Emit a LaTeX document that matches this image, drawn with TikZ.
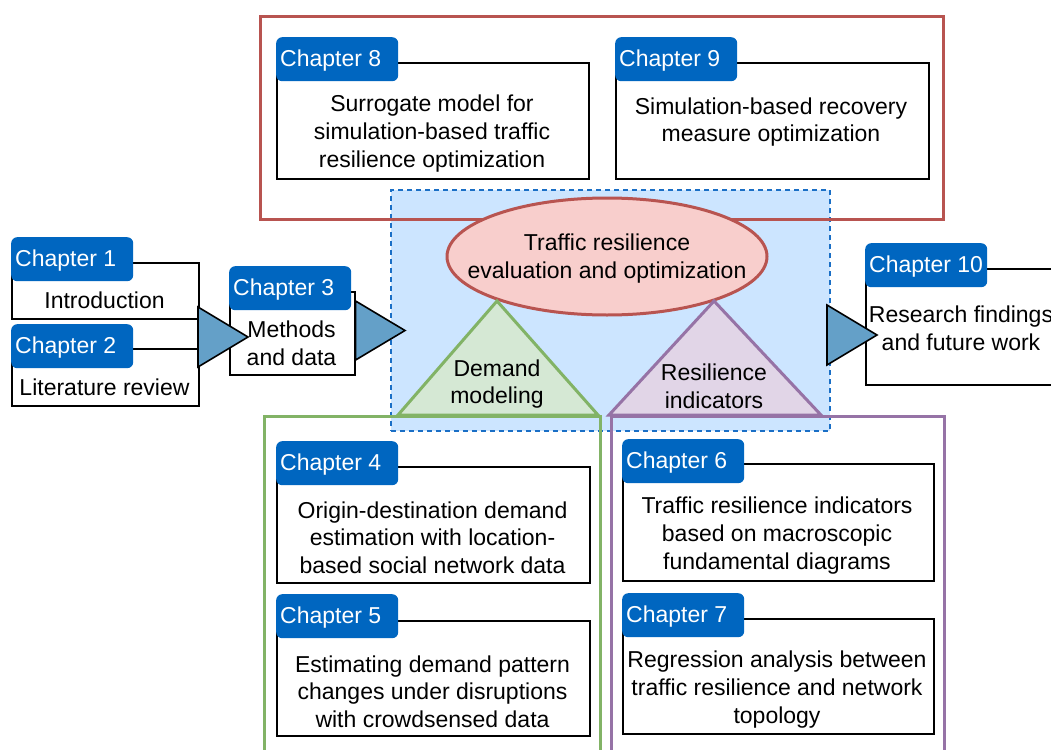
\documentclass[tikz,border=0pt]{standalone}
\usepackage{fontspec}
\setmainfont{Liberation Sans}
\usetikzlibrary{shapes.geometric}

\definecolor{tabblue}{HTML}{0066C0}
\definecolor{redline}{HTML}{B85450}
\definecolor{redfill}{HTML}{F8CECC}
\definecolor{greenline}{HTML}{82B366}
\definecolor{greenfill}{HTML}{D5E8D4}
\definecolor{purpleline}{HTML}{9673A6}
\definecolor{purplefill}{HTML}{E1D5E7}
\definecolor{zonefill}{HTML}{CCE5FF}
\definecolor{zoneline}{HTML}{1A6FC6}
\definecolor{flowfill}{HTML}{64A0C8}

\begin{document}
\begin{tikzpicture}[x=1pt,y=-1pt,
  font=\fontsize{23}{27.7}\selectfont,
  chapbox/.style={draw=black, line width=1.6pt, fill=white, anchor=north west, inner sep=0pt},
  chaptab/.style={fill=tabblue, rounded corners=6pt, anchor=north west, inner sep=0pt,
                  minimum width=122pt, minimum height=44pt},
  tablabel/.style={text=white, anchor=west, inner sep=0pt, yshift=-1pt},
  body/.style={align=center, inner sep=0pt, yshift=-2pt},
  flow/.style={draw=black, line width=1.6pt, fill=flowfill, line join=miter},
  grouprect/.style={line width=3pt, inner sep=0pt, anchor=north west}]

\useasboundingbox (0,0) rectangle (1051,749);
\clip (0,0) rectangle (1051,749);

% central zone
\node[fill=zonefill, draw=zoneline, line width=1.6pt, dash pattern=on 5pt off 4pt,
      anchor=north west, inner sep=0pt, minimum width=439pt, minimum height=241pt]
      (zone) at (390,189) {};

% group frames
\node[grouprect, draw=redline, minimum width=683pt, minimum height=203pt] (optgroup) at (259,15) {};
\node[grouprect, draw=greenline, minimum width=336pt, minimum height=360pt] (demgroup) at (263,415) {};
\node[grouprect, draw=purpleline, minimum width=333pt, minimum height=360pt] (resgroup) at (610,415) {};

% Chapter 8
\node[chapbox, minimum width=312pt, minimum height=116pt] (b8) at (276,62) {};
\node[chaptab] (t8) at (276,37) {};
\node[tablabel] (l8) at ([xshift=4pt]t8.west) {Chapter 8};
\node[body] (x8) at (432,131.5) {Surrogate model for\\simulation-based traffic\\resilience optimization};

% Chapter 9
\node[chapbox, minimum width=313pt, minimum height=116pt] (b9) at (615,62) {};
\node[chaptab] (t9) at (615,37) {};
\node[tablabel] (l9) at ([xshift=4pt]t9.west) {Chapter 9};
\node[body] (x9) at (771,120) {Simulation-based recovery\\measure optimization};

% core topic
\node[ellipse, draw=redline, fill=redfill, line width=3pt, inner sep=0pt,
      minimum width=320pt, minimum height=117pt] (core) at (607,256.5) {};
\node[body] (corelabel) at (607,256.5) {Traffic resilience\\evaluation and optimization};

% themes
\coordinate (dtop) at (497,301);
\coordinate (dright) at (598,415);
\coordinate (dleft) at (398,415);
\draw[draw=greenline, fill=greenfill, line width=3pt, line join=miter] (dtop) -- (dright) -- (dleft) -- cycle;
\node[body] (demand) at (497,382) {Demand\\modeling};

\coordinate (rtop) at (714,301);
\coordinate (rright) at (821,415);
\coordinate (rleft) at (609,415);
\draw[draw=purpleline, fill=purplefill, line width=3pt, line join=miter] (rtop) -- (rright) -- (rleft) -- cycle;
\node[body] (resil) at (714,384) {Resilience\\indicators};

% Chapter 4
\node[chapbox, minimum width=313pt, minimum height=116pt] (b4) at (276,466) {};
\node[chaptab] (t4) at (276,441) {};
\node[tablabel] (l4) at ([xshift=4pt]t4.west) {Chapter 4};
\node[body] (x4) at (432.5,535.5) {Origin-destination demand\\estimation with location-\\based social network data};

% Chapter 5
\node[chapbox, minimum width=313pt, minimum height=115pt] (b5) at (276,620) {};
\node[chaptab] (t5) at (276,594) {};
\node[tablabel] (l5) at ([xshift=4pt]t5.west) {Chapter 5};
\node[body] (x5) at (432.5,689.5) {Estimating demand pattern\\changes under disruptions\\with crowdsensed data};

% Chapter 6
\node[chapbox, minimum width=311pt, minimum height=117pt] (b6) at (622,463) {};
\node[chaptab] (t6) at (622,439) {};
\node[tablabel] (l6) at ([xshift=4pt]t6.west) {Chapter 6};
\node[body] (x6) at (777,533.5) {Traffic resilience indicators\\based on macroscopic\\fundamental diagrams};

% Chapter 7
\node[chapbox, minimum width=311pt, minimum height=115pt] (b7) at (622,618) {};
\node[chaptab] (t7) at (622,593) {};
\node[tablabel] (l7) at ([xshift=4pt]t7.west) {Chapter 7};
\node[body] (x7) at (777,687.5) {Regression analysis between\\traffic resilience and network\\topology};

% Chapters 1 and 2
\node[chapbox, minimum width=187pt, minimum height=56pt] (b1) at (11,262) {};
\node[chaptab] (t1) at (11,237) {};
\node[tablabel] (l1) at ([xshift=4pt]t1.west) {Chapter 1};
\node[body, yshift=2pt] (x1) at (104.5,300) {Introduction};

\node[chapbox, minimum width=187pt, minimum height=57pt] (b2) at (11,348) {};
\node[chaptab] (t2) at (11,324) {};
\node[tablabel] (l2) at ([xshift=4pt]t2.west) {Chapter 2};
\node[body, yshift=2pt] (x2) at (104.5,387) {Literature review};

% Chapter 3
\node[chapbox, minimum width=125pt, minimum height=83pt] (b3) at (229,291) {};
\node[chaptab] (t3) at (229,266) {};
\node[tablabel] (l3) at ([xshift=4pt]t3.west) {Chapter 3};
\node[body] (x3) at (291.5,341) {Methods\\and data};

% Chapter 10
\node[chapbox, minimum width=192pt, minimum height=116pt] (b10) at (865,268) {};
\node[chaptab] (t10) at (865,243) {};
\node[tablabel] (l10) at ([xshift=4pt]t10.west) {Chapter 10};
\node[body] (x10) at (961,326) {Research findings\\and future work};

% flow markers
\draw[flow] (198,307) -- (248,337) -- (198,367) -- cycle;
\draw[flow] (b3.east |- 0,301) -- (405,330.5) -- (b3.east |- 0,360) -- cycle;
\draw[flow] (827,305) -- (877,335) -- (827,365) -- cycle;

\end{tikzpicture}
\end{document}
